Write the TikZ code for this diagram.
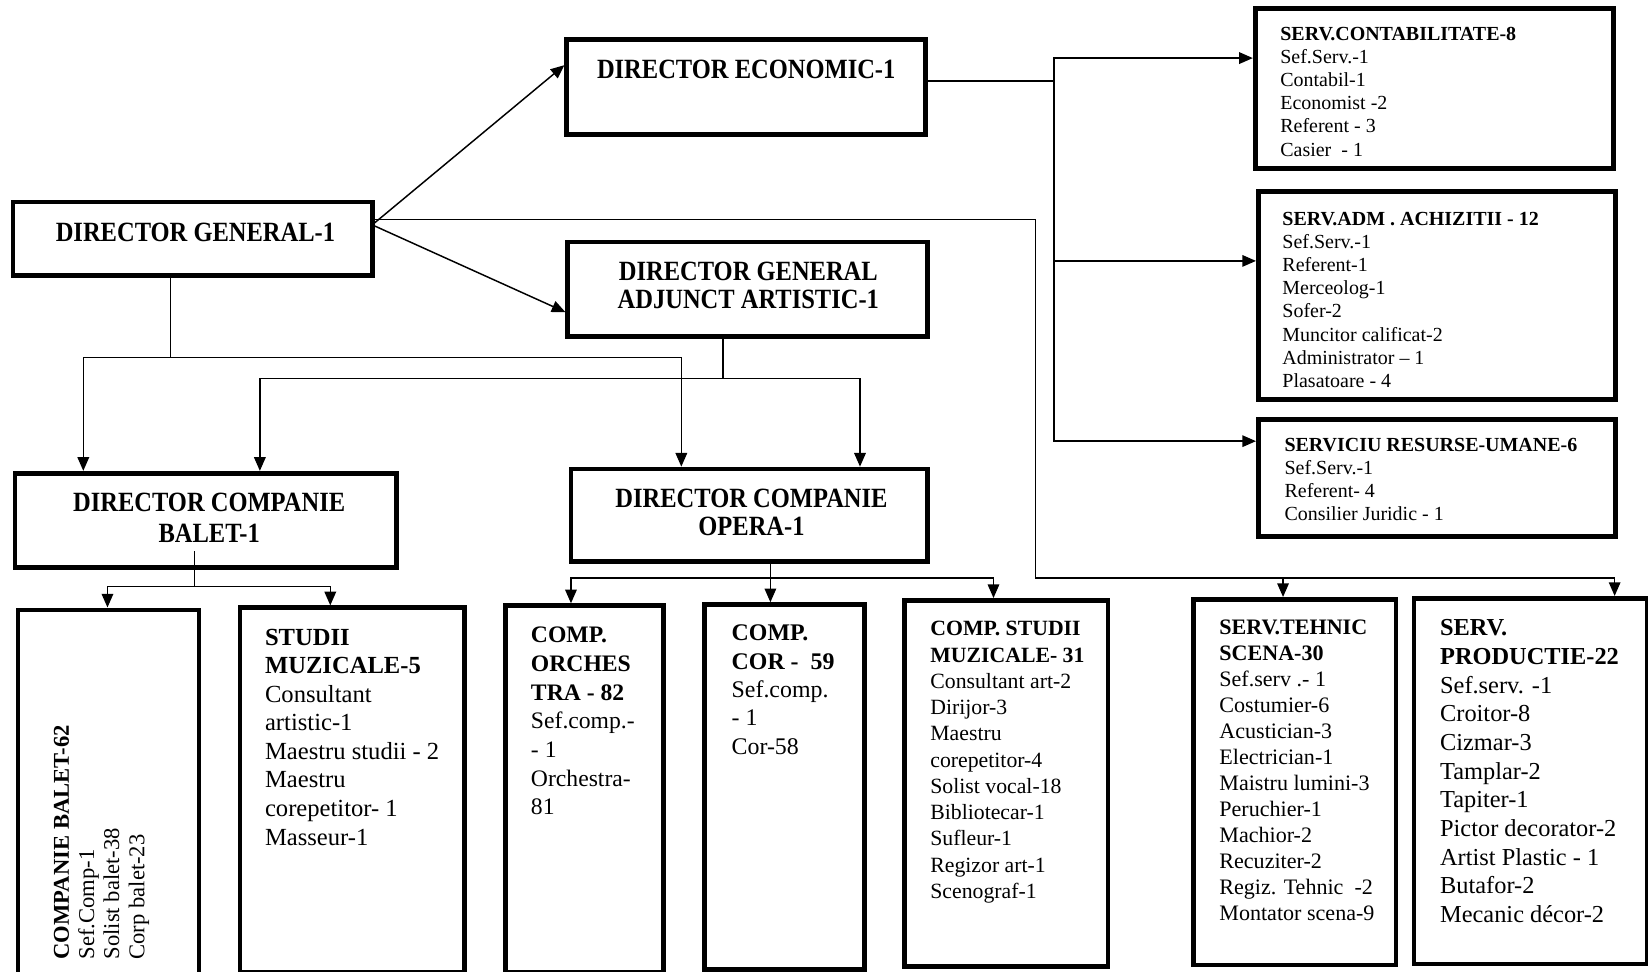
\documentclass[tikz,border=0pt]{standalone}
\usepackage{fontspec}
\setmainfont{Liberation Serif}
\newfontfamily\condserif[FakeStretch=0.88]{Liberation Serif}
\usetikzlibrary{arrows.meta}
\newcommand\orgbox[5]{\node[boxn, minimum width=#4pt, minimum height=#5pt] (#1) at (#2,#3) {};}
\begin{document}
\begin{tikzpicture}[x=1pt,y=-1pt,
  boxn/.style={draw, line width=4.5pt, inner sep=0pt, anchor=north west},
  conn/.style={line width=1.4pt},
  arr/.style={conn, -{Triangle[length=13pt,width=11pt]}},
  txt/.style={inner sep=0pt, anchor=north west, align=left},
  dtxt/.style={inner sep=0pt, align=center, font=\condserif\bfseries\fontsize{26.5}{27}\selectfont},
  top/.style={font=\fontsize{19}{22}\selectfont}]
\useasboundingbox (0,0) rectangle (1568,924);
\clip (0,0) rectangle (1568,924);
\fill[white] (0,0) rectangle (1568,924);

% boxes
\orgbox{dg}{10}{190}{342}{70}
\orgbox{de}{537}{35}{341}{91}
\orgbox{dga}{538}{228}{342}{90}
\orgbox{dcb}{12}{448}{363}{90}
\orgbox{dco}{541}{444}{339}{88}
\orgbox{sc}{1192}{6}{341}{152}
\orgbox{sa}{1195}{180}{340}{198}
\orgbox{sr}{1195}{397}{340}{111}
\orgbox{cb}{15}{578}{172}{400}
\orgbox{sm}{226}{576}{214}{347}
\orgbox{co}{479}{574}{150}{349}
\orgbox{cc}{668}{573}{152}{347}
\orgbox{csm}{858}{569}{194}{348}
\orgbox{st}{1133}{568}{193}{348}
\orgbox{sp}{1343}{567}{222}{348}

% director texts
\node[dtxt] (dgt) at (186,221) {DIRECTOR GENERAL-1};
\node[dtxt] (det) at (710,66) {DIRECTOR ECONOMIC-1};
\node[dtxt] (dgat) at (712,271.5) {DIRECTOR GENERAL\\ADJUNCT ARTISTIC-1};
\node[dtxt, font=\condserif\bfseries\fontsize{26.5}{29}\selectfont] (dcbt) at (199,492.5) {DIRECTOR COMPANIE\\BALET-1};
\node[dtxt] (dcot) at (715,487.5) {DIRECTOR COMPANIE\\OPERA-1};

% right upper boxes
\node[txt, top] (sct) at (1218,25.7) {\textbf{SERV.CONTABILITATE-8}\\Sef.Serv.-1\\Contabil-1\\Economist -2\\Referent - 3\\Casier~~- 1};
\node[txt, top] (sat) at (1220,201.7) {\textbf{SERV.ADM . ACHIZITII - 12}\\Sef.Serv.-1\\Referent-1\\Merceolog-1\\Sofer-2\\Muncitor calificat-2\\Administrator – 1\\Plasatoare - 4};
\node[txt, top] (srt) at (1222,416.7) {\textbf{SERVICIU RESURSE-UMANE-6}\\Sef.Serv.-1\\Referent- 4\\Consilier Juridic - 1};

% bottom boxes
\node[txt, rotate=90, font=\fontsize{21.5}{24}\selectfont] (cbt) at (51,913) {\textbf{COMPANIE BALET-62}\\Sef.Comp-1\\Solist balet-38\\Corp balet-23};
\node[txt, font=\fontsize{23.4}{27.2}\selectfont] (smt) at (252,598) {\textbf{STUDII}\\\textbf{MUZICALE-5}\\Consultant\\artistic-1\\Maestru studii - 2\\Maestru\\corepetitor- 1\\Masseur-1};
\node[txt, font=\fontsize{22.5}{27.3}\selectfont] (cot) at (505,596.5) {\textbf{COMP.}\\\textbf{ORCHES}\\\textbf{TRA - 82}\\Sef.comp.-\\- 1\\Orchestra-\\81};
\node[txt, font=\fontsize{22.7}{27}\selectfont] (cct) at (696,594.5) {\textbf{COMP.}\\\textbf{COR -~~59}\\Sef.comp.\\- 1\\Cor-58};
\node[txt, font=\fontsize{20.7}{25}\selectfont] (csmt) at (885,591) {\textbf{COMP. STUDII}\\\textbf{MUZICALE- 31}\\Consultant art-2\\Dirijor-3\\Maestru\\corepetitor-4\\Solist vocal-18\\Bibliotecar-1\\Sufleur-1\\Regizor art-1\\Scenograf-1};
\node[txt, font=\fontsize{21}{24.7}\selectfont] (stt) at (1160,590) {\textbf{SERV.TEHNIC}\\\textbf{SCENA-30}\\Sef.serv .- 1\\Costumier-6\\Acustician-3\\Electrician-1\\Maistru lumini-3\\Peruchier-1\\Machior-2\\Recuziter-2\\Regiz. Tehnic~~-2\\Montator scena-9};
\node[txt, font=\fontsize{23.2}{27.3}\selectfont] (spt) at (1370,589.3) {\textbf{SERV.}\\\textbf{PRODUCTIE-22}\\Sef.serv. -1\\Croitor-8\\Cizmar-3\\Tamplar-2\\Tapiter-1\\Pictor decorator-2\\Artist Plastic - 1\\Butafor-2\\Mecanic décor-2};

% junctions
\coordinate (jr) at (985,550);
\coordinate (jt) at (1003,77);
\coordinate (jl) at (162,340);
\coordinate (jm) at (688,360);
\coordinate (jb) at (185,558);
\coordinate (jo) at (733,550);

% connectors from director general
\draw[arr] ([yshift=-22pt]dg.north east) -- ([yshift=-27pt]de.north west);
\draw[arr] ([yshift=-25pt]dg.north east) -- ([yshift=-69pt]dga.north west);
\draw[conn] ([yshift=-19pt]dg.north east) -| (jr);
\draw[arr] (jr) -| ([xshift=-11pt]st.north);
\draw[arr] (jr) -| ([xshift=80pt]sp.north);

% director economic to services
\draw[conn] (de.east |- jt) -- (jt);
\draw[arr] (jt) |- ([yshift=29pt]sc.west);
\draw[arr] (jt) |- ([yshift=33pt]sa.west);
\draw[arr] (jt) |- ([yshift=35pt]sr.west);

% director general down
\draw[conn] (dg.south -| jl) -- (jl);
\draw[arr] (jl) -| ([xshift=-116.5pt]dcb.north);
\draw[arr] (jl) -| ([xshift=-64.5pt]dco.north);

% adjunct artistic down
\draw[conn] (dga.south -| jm) -- (jm);
\draw[arr] (jm) -| ([xshift=51.5pt]dcb.north);
\draw[arr] (jm) -| ([xshift=105.5pt]dco.north);

% balet down
\draw[conn] ([yshift=18pt]dcb.south -| jb) -- (jb);
\draw[arr] (jb) -| ([xshift=-1pt]cb.north);
\draw[arr] (jb) -| ([xshift=-21pt]sm.north);

% opera down
\draw[conn] (dco.south -| jo) -- (jo);
\draw[arr] (jo) -| ([xshift=-13pt]co.north);
\draw[arr] (jo) -- (jo |- cc.north);
\draw[arr] (jo) -| ([xshift=-12pt]csm.north);
\end{tikzpicture}
\end{document}
